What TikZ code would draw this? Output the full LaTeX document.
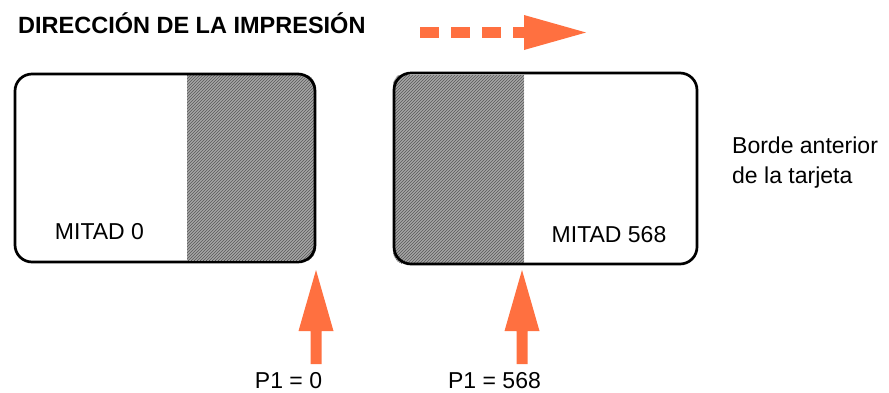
\documentclass[tikz,border=0pt]{standalone}
\usepackage{fontspec}
\setmainfont{Liberation Sans}
\usetikzlibrary{patterns,calc}
\definecolor{arroworange}{RGB}{255,112,64}
\begin{document}
\begin{tikzpicture}[x=1pt,y=-1pt,
  card/.style={draw=black,line width=2.7pt,rounded corners=17pt,inner sep=0pt},
  shade/.style={fill=black!35,postaction={pattern=north east lines,pattern color=black!65}},
  lbl/.style={inner sep=0pt,font=\fontsize{23}{28}\selectfont},
  title/.style={inner sep=0pt,font=\fontsize{23.5}{28}\selectfont\bfseries},
  orangefill/.style={fill=arroworange,draw=none}]
\useasboundingbox (0,0) rectangle (889,392);
% title
\node[title,anchor=base west] (title) at (18,33) {DIRECCIÓN DE LA IMPRESIÓN};
% dashed direction arrow
\coordinate (ds) at (420,32.5);
\coordinate (de) at (526,32.5);
\coordinate (dh) at (524,32.5);
\coordinate (dt) at (586,32.5);
\draw[arroworange,line width=11pt,dash pattern=on 19pt off 12pt] (ds) -- (de);
\fill[orangefill] ($(dh)+(0,-17.5)$) -- (dt) -- ($(dh)+(0,17.5)$) -- cycle;
% shaded halves
\begin{scope}
  \clip[rounded corners=16pt] (14,73) rectangle (316,263);
  \fill[shade] (187,75) rectangle (316,260);
\end{scope}
\begin{scope}
  \clip[rounded corners=14pt] (393,72) rectangle (698,265);
  \fill[shade] (393,75) rectangle (524,263);
\end{scope}
% cards
\node[card,minimum width=300pt,minimum height=188pt] (card0) at (165,168) {};
\node[card,minimum width=303pt,minimum height=191pt] (card1) at (545.5,168.5) {};
% labels
\node[lbl,anchor=base] (m0) at (99.5,239) {MITAD 0};
\node[lbl,anchor=base] (m1) at (609,242) {MITAD 568};
\node[lbl,anchor=base west] (b1) at (732,153) {Borde anterior};
\node[lbl,anchor=base west] (b2) at (732,183) {de la tarjeta};
\node[lbl,anchor=base] (p0) at (288.5,388) {P1 = 0};
\node[lbl,anchor=base] (p1) at (494.5,388) {P1 = 568};
% up arrows
\coordinate (a0) at (316,270);
\coordinate (a1) at (522,270);
\foreach \a in {a0,a1}{
  \fill[orangefill] (\a) -- ++(17.5,61) -- ++(-12,0) -- ++(0,33) -- ++(-11,0) -- ++(0,-33) -- ++(-12,0) -- cycle;
}
\end{tikzpicture}
\end{document}
